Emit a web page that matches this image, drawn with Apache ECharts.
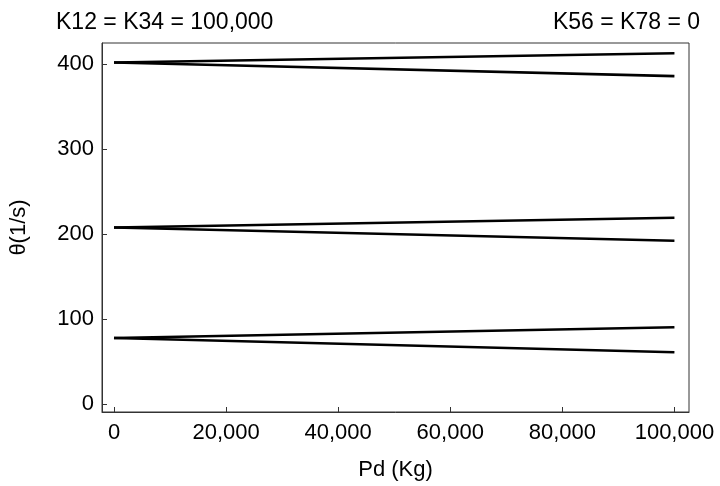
<!DOCTYPE html>
<html><head><meta charset="utf-8">
<script src="https://cdn.jsdelivr.net/npm/echarts@6/dist/echarts.min.js"></script>
<style>html,body{margin:0;padding:0;background:#fff}#c{width:720px;height:486px}</style>
</head><body><div id="c"></div>
<script>
const pd = [0, 100000];
const upper400 = [402, 413];
const lower400 = [402, 386];
const upper200 = [208, 219.5];
const lower200 = [208, 192.5];
const upper100 = [78, 90.6];
const lower100 = [78, 61.2];
const xTicks = [0, 20000, 40000, 60000, 80000, 100000];
const yTicks = [0, 100, 200, 300, 400];
const titleLeft = 'K12 = K34 = 100,000';
const titleRight = 'K56 = K78 = 0';
const xName = 'Pd (Kg)';
const yName = 'θ(1/s)';

const FONT = '"Liberation Sans", Arial, sans-serif';
const FS = 22;
const TFS = 23;
const allSeries = [upper400, lower400, upper200, lower200, upper100, lower100];
const chart = echarts.init(document.getElementById('c'), null, {renderer: 'canvas'});
chart.setOption({
  animation: false,
  backgroundColor: '#fff',
  title: [
    {text: titleLeft, left: 51, top: 6, textStyle: {fontFamily: FONT, fontSize: TFS, fontWeight: 'normal', color: '#000'}},
    {text: titleRight, right: 15, top: 6, textStyle: {fontFamily: FONT, fontSize: TFS, fontWeight: 'normal', color: '#000'}}
  ],
  grid: {left: 101, top: 43, right: 31, bottom: 74, show: true, borderColor: '#333', borderWidth: 1, backgroundColor: 'transparent'},
  xAxis: {
    type: 'value', min: -2140, max: 102600,
    name: xName, nameLocation: 'middle', nameGap: 47,
    nameTextStyle: {fontFamily: FONT, fontSize: FS, color: '#000'},
    axisLine: {show: true, onZero: false, lineStyle: {color: '#333', width: 1}},
    axisTick: {show: true, inside: true, length: 5, customValues: xTicks, lineStyle: {color: '#333'}},
    axisLabel: {customValues: xTicks, margin: 10, fontFamily: FONT, fontSize: FS, color: '#000',
      formatter: v => v.toLocaleString('en-US')},
    splitLine: {show: false}
  },
  yAxis: {
    type: 'value', min: -9, max: 425,
    name: yName, nameLocation: 'middle', nameGap: 72, nameRotate: 90,
    nameTextStyle: {fontFamily: FONT, fontSize: FS, color: '#000'},
    axisLine: {show: true, onZero: false, lineStyle: {color: '#333', width: 1}},
    axisTick: {show: true, inside: true, length: 5, customValues: yTicks, lineStyle: {color: '#333'}},
    axisLabel: {customValues: yTicks, margin: 8, fontFamily: FONT, fontSize: FS, color: '#000'},
    splitLine: {show: false}
  },
  series: allSeries.map(arr => ({
    type: 'line', symbol: 'none', silent: true,
    lineStyle: {color: '#000', width: 2.6},
    data: pd.map((x, i) => [x, arr[i]])
  }))
});
</script></body></html>
